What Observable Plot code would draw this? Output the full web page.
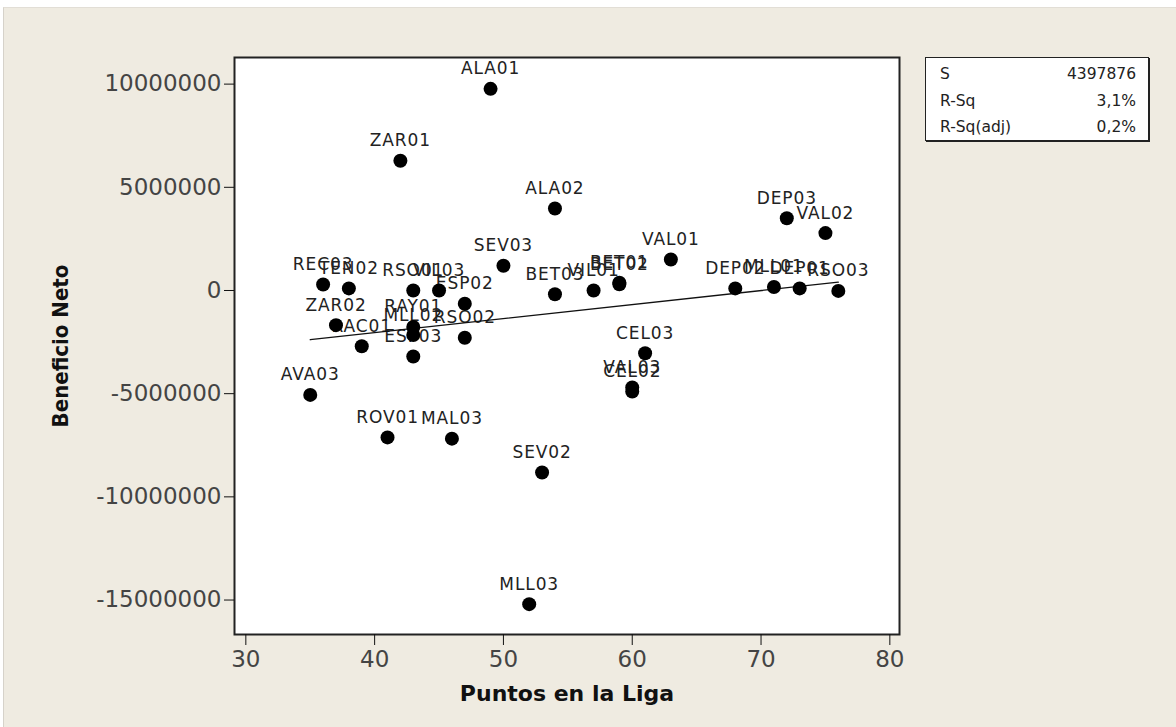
<!DOCTYPE html>
<html><head><meta charset="utf-8">
<script src="https://cdn.jsdelivr.net/npm/d3@7"></script>
<script src="https://cdn.jsdelivr.net/npm/@observablehq/plot@0.6"></script>
<style>
html,body{margin:0;padding:0;background:#fff;}
body{width:1176px;height:727px;overflow:hidden;position:relative;font-family:"DejaVu Sans",sans-serif;}
#bg{position:absolute;left:3px;top:7px;width:1173px;height:720px;background:#efebe1;border-left:1px solid #d6d2ca;border-top:1px solid #e2ded6;box-sizing:border-box;}
#chart{position:absolute;left:0;top:0;}
#stats{position:absolute;left:925px;top:57px;width:224px;height:84px;background:#fff;border:1.5px solid #222;box-shadow:1px 1px 0 #222;box-sizing:border-box;font-family:"DejaVu Sans",sans-serif;font-size:15.5px;color:#222;}
#stats .row{position:absolute;left:14px;right:12px;height:20px;line-height:20px;display:flex;justify-content:space-between;}
g[aria-label="text"] text{letter-spacing:0.9px;}
g[aria-label="x-axis label"] text{font-weight:bold;font-family:"DejaVu Sans",sans-serif;font-size:22px;fill:#111;}
g[aria-label="y-axis label"] text{font-weight:bold;font-family:"DejaVu Sans Condensed","DejaVu Sans",sans-serif;font-size:22px;fill:#111;}
</style>
</head><body>
<div id="bg"></div>
<div id="chart"></div>
<div id="stats"></div>
<script>
// Team-season labels, league points and net profit
const teams  = ["ALA01","ZAR01","ALA02","DEP03","VAL02","VAL01","SEV03","BET01","BET02","VIL01","BET03","DEP02","MLL01","DEP01","RSO03","REC03","TEN02","RSO01","VIL03","ESP02","ZAR02","RAC01","RAY01","MLL02","ESP03","RSO02","AVA03","ROV01","MAL03","SEV02","MLL03","CEL03","VAL03","CEL02"];
const points = [49,42,54,72,75,63,50,59,59,57,54,68,71,73,76,36,38,43,45,47,37,39,43,43,43,47,35,41,46,53,52,61,60,60];
const profit = [9770000,6290000,3970000,3500000,2780000,1500000,1200000,380000,300000,0,-180000,100000,170000,100000,-20000,290000,100000,0,0,-640000,-1680000,-2700000,-1770000,-2160000,-3200000,-2290000,-5060000,-7120000,-7180000,-8820000,-15200000,-3040000,-4700000,-4900000];
const xTicks = [30,40,50,60,70,80];
const yTicks = [-15000000,-10000000,-5000000,0,5000000,10000000];
const statLabels = ["S","R-Sq","R-Sq(adj)"];
const statValues = ["4397876","3,1%","0,2%"];
const xTitle = "Puntos en la Liga";
const yTitle = "Beneficio Neto";

const data = teams.map((t,i)=>({team:t, pts:points[i], ben:profit[i]}));

const chart = Plot.plot({
  width:1176, height:727,
  marginLeft:234, marginRight:277, marginTop:57, marginBottom:93,
  x:{domain:[29.12,80.75]},
  y:{domain:[-16670000,11290000]},
  style:{background:"transparent", fontFamily:"DejaVu Sans", color:"#111", overflow:"visible"},
  marks:[
    Plot.frame({fill:"white"}),
    Plot.text(data,{x:"pts",y:"ben",text:"team",dy:-20,fontSize:17,fill:"#222"}),
    Plot.linearRegressionY(data,{x:"pts",y:"ben",ci:0,stroke:"#111",strokeWidth:1.3}),
    Plot.dot(data,{x:"pts",y:"ben",r:7,fill:"#000",stroke:"none"}),
    Plot.frame({stroke:"#222",strokeWidth:2}),
    Plot.axisX({ticks:xTicks, tickSize:11, tickPadding:5, fontSize:23, fill:"#444", tickFormat:d=>String(d),
      label:xTitle, labelAnchor:"center", labelArrow:"none", labelOffset:66}),
    Plot.axisY({ticks:yTicks, tickSize:10, tickPadding:3, fontSize:23, fill:"#444", tickFormat:d=>String(d),
      label:yTitle, labelAnchor:"center", labelArrow:"none", labelOffset:182})
  ]
});
document.getElementById("chart").appendChild(chart);

const stats = document.getElementById("stats");
const tops = [6,33,59];
statLabels.forEach((l,i)=>{
  const r = document.createElement("div");
  r.className = "row";
  r.style.top = tops[i]+"px";
  const a = document.createElement("span"); a.textContent = l;
  const b = document.createElement("span"); b.textContent = statValues[i];
  r.appendChild(a); r.appendChild(b);
  stats.appendChild(r);
});
</script>
</body></html>
